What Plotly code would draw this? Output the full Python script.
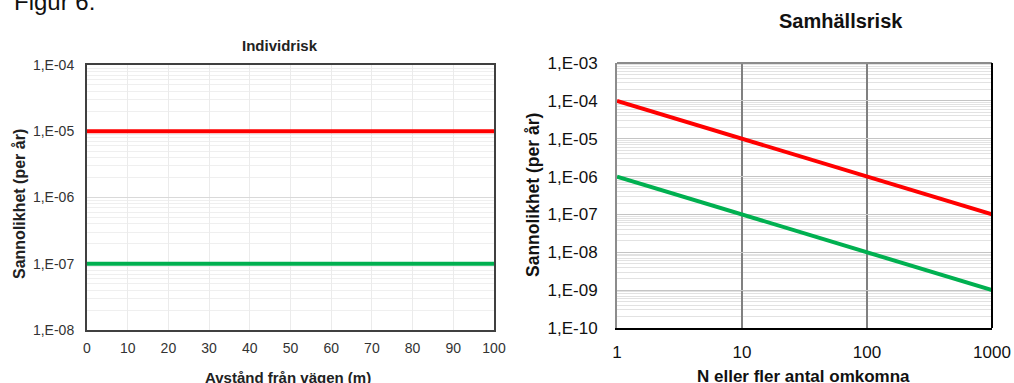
import plotly.graph_objects as go

# ---- data ----
dist_m = [0, 100]
ind_upper = [1e-5, 1e-5]
ind_lower = [1e-7, 1e-7]

n_deaths = [1, 1000]
soc_upper = [1e-4, 1e-7]
soc_lower = [1e-6, 1e-9]

ind_yticks = [1e-8, 1e-7, 1e-6, 1e-5, 1e-4]
ind_yticktext = ["1,E-08", "1,E-07", "1,E-06", "1,E-05", "1,E-04"]
ind_xticks = [0, 10, 20, 30, 40, 50, 60, 70, 80, 90, 100]

soc_yticks = [1e-10, 1e-9, 1e-8, 1e-7, 1e-6, 1e-5, 1e-4, 1e-3]
soc_yticktext = ["1,E-10", "1,E-09", "1,E-08", "1,E-07", "1,E-06", "1,E-05", "1,E-04", "1,E-03"]
soc_xticks = [1, 10, 100, 1000]
soc_xticktext = ["1", "10", "100", "1000"]

RED = "#ff0000"
GREEN = "#00b050"
FONT = "Liberation Sans, Arial, sans-serif"

W, H = 1014, 383


def px(x):
    return x / W


def py(y):
    return 1 - y / H


def minor_vals(lo, hi):
    vals = []
    for e in range(lo, hi):
        for k in range(2, 10):
            vals.append(k * 10 ** e)
    return vals


fig = go.Figure()

fig.add_trace(go.Scatter(x=dist_m, y=ind_upper, mode="lines", line=dict(color=RED, width=4),
                         xaxis="x", yaxis="y", showlegend=False))
fig.add_trace(go.Scatter(x=dist_m, y=ind_lower, mode="lines", line=dict(color=GREEN, width=4),
                         xaxis="x", yaxis="y", showlegend=False))
fig.add_trace(go.Scatter(x=n_deaths, y=soc_upper, mode="lines", line=dict(color=RED, width=4),
                         xaxis="x2", yaxis="y2", showlegend=False))
fig.add_trace(go.Scatter(x=n_deaths, y=soc_lower, mode="lines", line=dict(color=GREEN, width=4),
                         xaxis="x2", yaxis="y2", showlegend=False))

fig.update_layout(
    width=W, height=H,
    margin=dict(l=0, r=0, t=0, b=0, autoexpand=False),
    paper_bgcolor="white", plot_bgcolor="white",
    font=dict(family=FONT, color="#222"),
    xaxis=dict(
        domain=[px(87), px(494)], anchor="y",
        range=[0, 100], tickvals=ind_xticks,
        showgrid=True, gridcolor="#ebebeb", gridwidth=1, zeroline=False,
        showline=True, mirror=True, linecolor="#404040", linewidth=2,
        ticks="", tickfont=dict(size=14, color="#333"), ticklabelstandoff=4,
    ),
    yaxis=dict(
        domain=[py(330), py(65)], anchor="x", type="log",
        range=[-8, -4], tickvals=ind_yticks, ticktext=ind_yticktext,
        showgrid=True, gridcolor="#d9d9d9", gridwidth=1, zeroline=False,
        minor=dict(tickmode="array", tickvals=minor_vals(-8, -4), showgrid=True,
                   gridcolor="#efefef", gridwidth=1, ticks=""),
        showline=True, mirror=True, linecolor="#404040", linewidth=2,
        ticks="", tickfont=dict(size=14, color="#333"), ticklabelstandoff=8,
    ),
    xaxis2=dict(
        domain=[px(617), px(992)], anchor="y2", type="log",
        range=[0, 3], tickvals=soc_xticks, ticktext=soc_xticktext,
        showgrid=True, gridcolor="#808080", gridwidth=1.5, zeroline=False,
        showline=True, mirror=False, linecolor="#000000", linewidth=2,
        ticks="", tickfont=dict(size=17, color="#111"), ticklabelstandoff=8,
    ),
    yaxis2=dict(
        domain=[py(328), py(63)], anchor="x2", type="log",
        range=[-10, -3], tickvals=soc_yticks, ticktext=soc_yticktext,
        showgrid=True, gridcolor="#c4c4c4", gridwidth=1, zeroline=False,
        minor=dict(tickmode="array", tickvals=minor_vals(-10, -3), showgrid=True,
                   gridcolor="#e2e2e2", gridwidth=1, ticks=""),
        showline=True, mirror=False, linecolor="#8c8c8c", linewidth=2,
        ticks="", tickfont=dict(size=17, color="#111"), ticklabelstandoff=14,
    ),
    shapes=[
        dict(type="line", xref="x2 domain", yref="y2 domain", x0=0, x1=1, y0=1, y1=1,
             line=dict(color="#8c8c8c", width=2)),
        dict(type="line", xref="x2 domain", yref="y2 domain", x0=1, x1=1, y0=0, y1=1,
             line=dict(color="#000000", width=2)),
    ],
    annotations=[
        dict(text="Figur 6:", x=px(12), y=py(1), xref="paper", yref="paper",
             xanchor="left", yanchor="middle", showarrow=False,
             font=dict(size=24, color="#111", family=FONT)),
        dict(text="<b>Individrisk</b>", x=px(280), y=py(45), xref="paper", yref="paper",
             xanchor="center", yanchor="middle", showarrow=False,
             font=dict(size=15, color="#222", family=FONT)),
        dict(text="<b>Samhällsrisk</b>", x=px(841), y=py(21), xref="paper", yref="paper",
             xanchor="center", yanchor="middle", showarrow=False,
             font=dict(size=20, color="#111", family=FONT)),
        dict(text="<b>Sannolikhet (per år)</b>", x=px(19), y=py(204), xref="paper", yref="paper",
             xanchor="center", yanchor="middle", showarrow=False, textangle=-90,
             font=dict(size=16, color="#222", family=FONT)),
        dict(text="<b>Avstånd från vägen (m)</b>", x=px(288), y=py(377), xref="paper", yref="paper",
             xanchor="center", yanchor="middle", showarrow=False,
             font=dict(size=15, color="#222", family=FONT)),
        dict(text="<b>Sannolikhet (per år)</b>", x=px(533), y=py(195), xref="paper", yref="paper",
             xanchor="center", yanchor="middle", showarrow=False, textangle=-90,
             font=dict(size=17.5, color="#111", family=FONT)),
        dict(text="<b>N eller fler antal omkomna</b>", x=px(803), y=py(376), xref="paper", yref="paper",
             xanchor="center", yanchor="middle", showarrow=False,
             font=dict(size=17, color="#111", family=FONT)),
    ],
)

fig.write_html("out.html", config={"displayModeBar": False},
               post_script="document.body.style.margin='0';document.body.style.overflow='hidden';")
